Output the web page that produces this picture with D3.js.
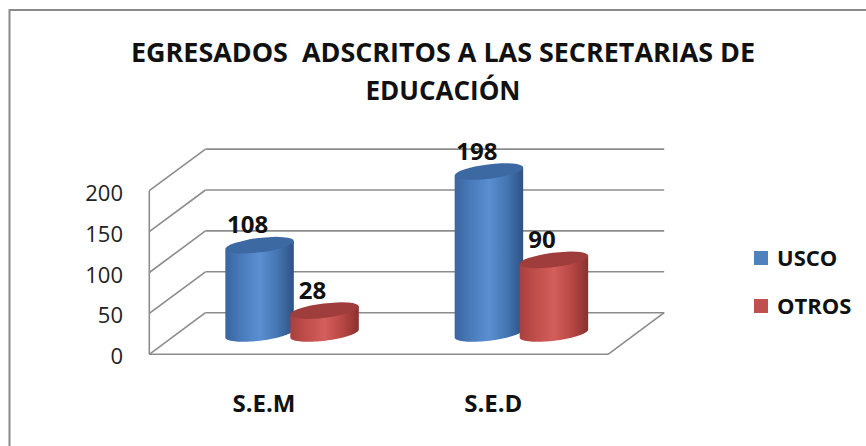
<!DOCTYPE html>
<html><head><meta charset="utf-8">
<script src="https://cdn.jsdelivr.net/npm/d3@7"></script>
<style>html,body{margin:0;padding:0;background:#fff;}svg{display:block;font-family:"Open Sans",sans-serif;}</style>
</head><body>
<svg id="c" width="866" height="446"></svg>
<script>
const categories = ["S.E.M", "S.E.D"];
const series = ["USCO", "OTROS"];
const values = { USCO: [108, 198], OTROS: [28, 90] };
const yTicks = [0, 50, 100, 150, 200];
const titleLines = ["EGRESADOS \u00a0ADSCRITOS A LAS SECRETARIAS DE", "EDUCACIÓN"];

const svg = d3.select("#c");
const defs = svg.append("defs");
const grid = "#8c8c8c";

// chart border
svg.append("rect").attr("x", 9.5).attr("y", 10).attr("width", 900).attr("height", 500)
  .attr("fill", "none").attr("stroke", "#8a8a8a").attr("stroke-width", 2);

// title
const tl = svg.append("g").attr("font-weight", "bold").attr("font-size", 26).attr("fill", "#111")
  .attr("text-anchor", "middle");
const tlW = [624, 155], tlY = [62, 100];
titleLines.forEach((t, i) => tl.append("text").attr("x", 443).attr("y", tlY[i])
  .attr("textLength", tlW[i]).attr("lengthAdjust", "spacingAndGlyphs").text(t));

// scales
const x0 = 149.3, x1 = 608;
const y = d3.scaleLinear().domain([0, 200]).range([354.3, 190.7]);
const x = d3.scaleBand().domain(categories).range([x0, x1]);
const xs = d3.scaleBand().domain(series).range([-65, 65]);
const depth = { dx: 56.2, dy: -41.6 };
const color = d3.scaleOrdinal().domain(series).range(["blue", "red"]);

// 3D grid
const g = svg.append("g").attr("stroke", grid).attr("stroke-width", 1.6).attr("fill", "none");
yTicks.forEach(v => {
  const fy = y(v), by = fy + depth.dy;
  g.append("line").attr("x1", x0).attr("y1", fy).attr("x2", x0 + depth.dx).attr("y2", by);
  g.append("line").attr("x1", x0 + depth.dx).attr("y1", by).attr("x2", x1 + depth.dx).attr("y2", by);
});
g.append("line").attr("x1", x0).attr("y1", y(0)).attr("x2", x0).attr("y2", y(200));
g.append("line").attr("x1", x0).attr("y1", y(0)).attr("x2", x1).attr("y2", y(0));
g.append("line").attr("x1", x1).attr("y1", y(0)).attr("x2", x1 + depth.dx).attr("y2", y(0) + depth.dy);

// y labels
svg.append("g").attr("font-size", 22).attr("fill", "#222").attr("text-anchor", "end")
  .selectAll("text").data(yTicks).join("text")
  .attr("x", 123).attr("y", d => y(d) + 10).text(d => d);

// category labels
svg.append("g").attr("font-size", 24).attr("font-weight", "bold").attr("fill", "#111").attr("text-anchor", "middle")
  .selectAll("text").data(categories).join("text")
  .attr("x", d => x(d) + x.bandwidth() / 2).attr("y", 412).text(d => d);

// gradients
const pal = {
  blue: { stops: ["#3a65a0", "#4a7cbc", "#5a8fd2", "#4677b4", "#2e5286"], top: "#3d69a2" },
  red: { stops: ["#a8403e", "#c24f4c", "#d35e5b", "#b94845", "#8a302e"], top: "#9e3d3b" }
};
Object.entries(pal).forEach(([k, p]) => {
  const lg = defs.append("linearGradient").attr("id", "g-" + k).attr("x1", 0).attr("x2", 1).attr("y1", 0).attr("y2", 0);
  [0, 0.25, 0.5, 0.75, 1].forEach((o, i) => lg.append("stop").attr("offset", o).attr("stop-color", p.stops[i]));
});

// cylinders
const rx = 34.5, ry = 7.2, rot = -7 * Math.PI / 180;
const pt = (cx, cy, t) => {
  const ex = rx * Math.cos(t), ey = ry * Math.sin(t);
  return [cx + ex * Math.cos(rot) - ey * Math.sin(rot), cy + ex * Math.sin(rot) + ey * Math.cos(rot)];
};
const bars = [];
categories.forEach((c, ci) => series.forEach(s => bars.push({ c, s, v: values[s][ci] })));
const bg = svg.append("g");
bars.forEach(b => {
  const cx = x(b.c) + x.bandwidth() / 2 + depth.dx * 0.5 + xs(b.s) + xs.bandwidth() / 2;
  const base = y(0) + depth.dy * 0.5;
  const top = base - (y(0) - y(b.v));
  const k = color(b.s);
  const pts = [];
  for (let i = 0; i <= 40; i++) { const t = Math.PI - Math.PI * i / 40; pts.push(pt(cx, base, t)); }
  const tr = pt(cx, top, 0), tlp = pt(cx, top, Math.PI);
  let d = `M${tlp[0]},${tlp[1]} L${pts[0][0]},${pts[0][1]}`;
  pts.forEach(p => d += ` L${p[0]},${p[1]}`);
  d += ` L${tr[0]},${tr[1]} Z`;
  bg.append("path").attr("d", d).attr("fill", `url(#g-${k})`);
  bg.append("ellipse").attr("cx", cx).attr("cy", top).attr("rx", rx).attr("ry", ry)
    .attr("transform", `rotate(${rot * 180 / Math.PI},${cx},${top})`).attr("fill", pal[k].top);
  b.lx = cx - 12; b.ly = top - 12;
});

// data labels
svg.append("g").attr("font-size", 24).attr("font-weight", "bold").attr("fill", "#111").attr("text-anchor", "middle")
  .selectAll("text").data(bars).join("text").attr("x", d => d.lx).attr("y", d => d.ly).text(d => d.v);

// legend
const lgd = svg.append("g");
series.forEach((s, i) => {
  const yy = 251 + i * 48;
  lgd.append("rect").attr("x", 754).attr("y", yy).attr("width", 14).attr("height", 14)
    .attr("fill", color(s) === "blue" ? "#4f81bd" : "#c0504d");
  lgd.append("text").attr("x", 777).attr("y", yy + 14.5).attr("font-size", 22).attr("font-weight", "bold")
    .attr("fill", "#111").text(s);
});
</script>
</body></html>
